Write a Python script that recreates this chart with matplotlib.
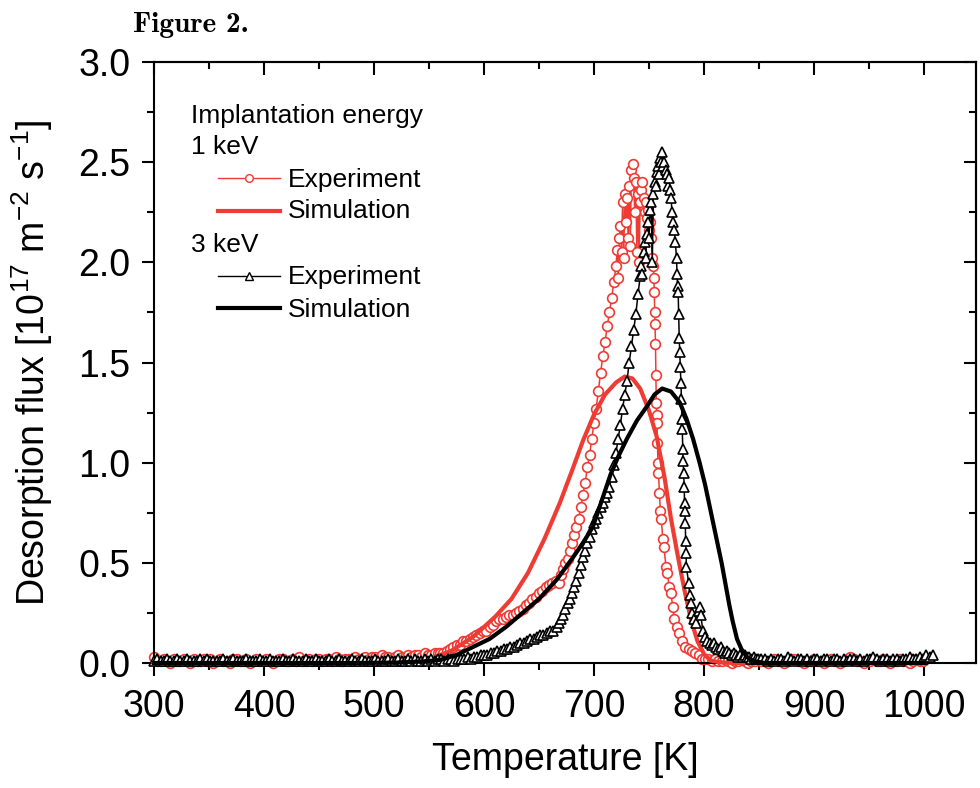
import numpy as np
import matplotlib.pyplot as plt
from matplotlib.ticker import MultipleLocator

plt.rcParams['font.family'] = ['Liberation Sans', 'DejaVu Sans']
plt.rcParams['mathtext.fontset'] = 'custom'
plt.rcParams['mathtext.rm'] = 'Liberation Sans'
plt.rcParams['mathtext.default'] = 'regular'

RED = '#EE3B33'

# ---- 1 keV experiment ----
# flat part before the peak, sampled every 3 K from 300 K
red_base = [0.03, 0.01, 0.01, 0.02, 0.01, 0.00, 0.02, 0.01, 0.01, 0.02,
            0.01, 0.00, 0.02, 0.01, 0.01, 0.02, 0.01, 0.02, 0.00, 0.01,
            0.02, 0.01, 0.01, 0.00, 0.02, 0.02, 0.01, 0.01, 0.02, 0.00,
            0.01, 0.02, 0.01, 0.01, 0.02, 0.01, 0.00, 0.01, 0.02, 0.02,
            0.01, 0.01, 0.02, 0.01, 0.03, 0.01, 0.01, 0.02, 0.01, 0.02,
            0.02, 0.01, 0.02, 0.02, 0.01, 0.03, 0.02, 0.01, 0.02, 0.02,
            0.02, 0.03, 0.02, 0.02, 0.03, 0.02, 0.03, 0.03, 0.02, 0.04,
            0.03, 0.03, 0.02, 0.03, 0.04, 0.03, 0.03, 0.04, 0.03, 0.04,
            0.04, 0.03, 0.05, 0.04, 0.04, 0.05, 0.05]
red_peak = [(560, 0.05), (563, 0.05), (566, 0.06), (569, 0.07), (572, 0.08),
            (575, 0.09), (578, 0.09), (581, 0.11), (584, 0.11), (587, 0.12),
            (590, 0.13), (593, 0.14), (596, 0.15), (599, 0.16), (602, 0.16),
            (605, 0.18), (608, 0.19), (611, 0.21), (614, 0.22), (617, 0.22),
            (620, 0.23), (623, 0.24), (626, 0.24), (629, 0.25), (632, 0.26),
            (635, 0.27), (638, 0.29), (641, 0.30), (644, 0.32), (647, 0.33),
            (650, 0.35), (653, 0.36), (656, 0.38), (659, 0.39), (662, 0.40),
            (665, 0.41), (668, 0.40), (670, 0.44), (672, 0.47), (674, 0.50),
            (676, 0.52), (678, 0.56), (680, 0.60), (682, 0.64), (684, 0.68),
            (686, 0.72), (688, 0.78), (690, 0.84), (692, 0.90), (694, 0.98),
            (696, 1.04), (698, 1.12), (700, 1.20), (702, 1.27), (704, 1.36),
            (706, 1.45), (708, 1.53), (710, 1.60), (712, 1.68), (714, 1.75),
            (716, 1.82), (718, 1.90), (720, 1.98), (721, 2.06), (722, 1.92),
            (723, 2.12), (724, 2.18), (725, 2.05), (726, 2.30), (727, 2.02),
            (728, 2.34), (729, 2.20), (730, 2.32), (731, 2.12), (732, 2.38),
            (733, 2.08), (734, 2.46), (735, 2.49), (736, 2.42), (737, 2.25),
            (738, 2.40), (739, 2.05), (740, 2.34), (741, 2.00), (742, 2.30),
            (743, 2.36), (744, 2.40), (745, 2.32), (746, 2.25), (747, 2.30),
            (748, 2.22), (749, 2.26), (750, 2.16), (751, 2.20), (752, 2.12),
            (753, 2.02), (754, 1.98), (754.4, 1.92), (754.8, 1.85), (755.2, 1.75),
            (755.5, 1.69), (755.9, 1.59), (756.3, 1.44), (756.6, 1.30), (757, 1.24),
            (757.3, 1.20), (757.7, 1.10), (758.1, 1.00), (758.6, 0.95), (759.5, 0.85),
            (760.3, 0.76), (761.2, 0.72), (762.5, 0.62), (763.5, 0.58), (765.5, 0.48),
            (766.5, 0.45), (768.5, 0.38), (770, 0.35), (771.5, 0.28), (773, 0.22),
            (775, 0.18), (777, 0.15), (780, 0.11), (783, 0.08), (786, 0.07),
            (789, 0.06), (792, 0.05), (795, 0.04), (798, 0.02)]
# flat part after the peak, every 3 K from 801 K
red_tail = [0.02, 0.02, 0.01, 0.02, 0.01, 0.01, 0.02, 0.01, 0.00, 0.01,
            0.01, 0.02, 0.01, 0.00, 0.01, 0.01, 0.02, 0.01, 0.01, 0.00,
            0.01, 0.02, 0.01, 0.01, 0.00, 0.01, 0.02, 0.02, 0.01, 0.01,
            0.00, 0.01, 0.01, 0.02, 0.01, 0.01, 0.00, 0.01, 0.02, 0.01,
            0.01, 0.00, 0.01, 0.02, 0.03, 0.02, 0.01, 0.01, 0.00, 0.01,
            0.01, 0.02, 0.01, 0.01, 0.02, 0.01, 0.00, 0.01, 0.01, 0.02,
            0.01, 0.01, 0.00, 0.01, 0.02, 0.01, 0.01]

# ---- 3 keV experiment ----
blk_base = [0.01, 0.02, 0.01, 0.01, 0.02, 0.01, 0.01, 0.02, 0.01, 0.01,
            0.02, 0.01, 0.01, 0.01, 0.02, 0.01, 0.02, 0.01, 0.01, 0.01,
            0.01, 0.02, 0.01, 0.01, 0.02, 0.01, 0.01, 0.01, 0.02, 0.01,
            0.01, 0.01, 0.02, 0.01, 0.01, 0.02, 0.01, 0.01, 0.01, 0.02,
            0.01, 0.01, 0.02, 0.01, 0.01, 0.01, 0.02, 0.01, 0.01, 0.02,
            0.01, 0.01, 0.01, 0.02, 0.01, 0.01, 0.02, 0.01, 0.01, 0.01,
            0.02, 0.01, 0.01, 0.02, 0.01, 0.01, 0.01, 0.02, 0.01, 0.01,
            0.01, 0.02, 0.01, 0.01, 0.02, 0.01, 0.01, 0.02, 0.01, 0.02,
            0.01, 0.01, 0.02, 0.01, 0.02, 0.01, 0.02, 0.02, 0.01, 0.02,
            0.02, 0.01, 0.02]
blk_peak = [(579, 0.02), (582, 0.02), (585, 0.03), (588, 0.02), (591, 0.03),
            (594, 0.03), (597, 0.04), (600, 0.04), (603, 0.04), (606, 0.05),
            (609, 0.05), (612, 0.06), (615, 0.06), (618, 0.07), (621, 0.07),
            (624, 0.08), (627, 0.08), (630, 0.09), (633, 0.10), (636, 0.10),
            (639, 0.11), (642, 0.12), (645, 0.12), (648, 0.13), (651, 0.14),
            (654, 0.14), (657, 0.15), (660, 0.16), (663, 0.16), (666, 0.18),
            (668, 0.20), (670, 0.22), (672, 0.24), (674, 0.27), (676, 0.30),
            (678, 0.32), (680, 0.35), (682, 0.38), (684, 0.41), (686, 0.45),
            (688, 0.49), (690, 0.53), (692, 0.56), (694, 0.60), (696, 0.63),
            (698, 0.67), (700, 0.70), (702, 0.72), (704, 0.75), (706, 0.78),
            (708, 0.80), (710, 0.83), (712, 0.85), (714, 0.88), (716, 0.93),
            (718, 0.99), (720, 1.05), (722, 1.12), (724, 1.19), (726, 1.27),
            (728, 1.34), (730, 1.41), (732, 1.50), (734, 1.58), (736, 1.66),
            (738, 1.74), (740, 1.84), (742, 1.93), (743, 1.98), (744, 1.94),
            (745, 2.05), (746, 2.10), (747, 2.02), (748, 2.14), (749, 2.20),
            (750, 2.12), (751, 2.26), (752, 2.30), (753, 2.00), (754, 2.34),
            (755, 2.40), (756, 2.38), (757, 2.45), (758, 2.48), (759, 2.44),
            (760, 2.52), (761, 2.50), (762, 2.55), (763, 2.48), (764, 2.50),
            (765, 2.46), (766, 2.44), (767, 2.38), (768, 2.42), (769, 2.36),
            (770, 2.32), (771, 2.25), (772, 2.20), (773, 2.16), (774, 2.10),
            (775, 2.02), (775.5, 1.94), (776, 1.88), (776.5, 1.85), (777, 1.74),
            (777.5, 1.62), (778, 1.55), (778.5, 1.48), (779, 1.40), (779.5, 1.32),
            (780, 1.22), (780.3, 1.17), (780.7, 1.07), (781, 1.01), (781.5, 0.95),
            (782, 0.88), (782.3, 0.80), (782.7, 0.76), (783, 0.70), (783.3, 0.61),
            (783.7, 0.55), (784, 0.48), (786, 0.40), (787, 0.34), (788, 0.30),
            (789, 0.25), (791, 0.22), (793, 0.20), (795, 0.26), (796, 0.28),
            (797, 0.24), (799, 0.16), (801, 0.13), (803, 0.11), (805, 0.10),
            (807, 0.09), (809, 0.10), (811, 0.08), (813, 0.07), (815, 0.08),
            (817, 0.06), (819, 0.05), (821, 0.06), (823, 0.05), (825, 0.04),
            (827, 0.05), (829, 0.04), (831, 0.03), (833, 0.04), (835, 0.03),
            (837, 0.04), (839, 0.03), (841, 0.03), (843, 0.02), (845, 0.03),
            (847, 0.02), (849, 0.02)]
# every 3 K from 852 K
blk_tail = [0.02, 0.02, 0.01, 0.02, 0.01, 0.02, 0.02, 0.01, 0.03, 0.02,
            0.01, 0.02, 0.02, 0.01, 0.02, 0.01, 0.02, 0.02, 0.01, 0.02,
            0.02, 0.01, 0.02, 0.02, 0.01, 0.02, 0.01, 0.02, 0.02, 0.01,
            0.02, 0.01, 0.02, 0.02, 0.03, 0.02, 0.01, 0.02, 0.02, 0.01,
            0.02, 0.02, 0.01, 0.02, 0.02, 0.03, 0.02, 0.02, 0.03, 0.02,
            0.04, 0.03, 0.04]

# ---- simulations ----
sim1_T = [300, 450, 500, 530, 550, 570, 590, 610, 625, 640, 655, 669, 680, 690,
          700, 710, 720, 728, 735, 742, 750, 757, 764, 770, 776, 782, 788, 794,
          800, 806, 815, 830, 1000]
sim1_F = [0, 0, 0.002, 0.008, 0.02, 0.06, 0.13, 0.23, 0.32, 0.45, 0.62, 0.80, 0.96,
          1.11, 1.24, 1.34, 1.40, 1.43, 1.42, 1.37, 1.26, 1.13, 0.93, 0.72, 0.54,
          0.37, 0.22, 0.11, 0.045, 0.012, 0.003, 0, 0]
sim3_T = [300, 480, 520, 545, 560, 575, 590, 605, 620, 635, 650, 666, 680, 690,
          699, 707, 715, 722, 730, 739, 748, 755, 762, 770, 778, 784, 790, 796,
          801, 806, 811, 816, 820, 823, 826, 830, 834, 839, 845, 855, 1000]
sim3_F = [0, 0, 0.002, 0.008, 0.015, 0.04, 0.08, 0.12, 0.18, 0.25, 0.32, 0.415,
          0.52, 0.60, 0.68, 0.81, 0.94, 1.03, 1.12, 1.21, 1.28, 1.34, 1.37, 1.355,
          1.30, 1.22, 1.12, 1.00, 0.89, 0.76, 0.63, 0.50, 0.38, 0.29, 0.21,
          0.12, 0.07, 0.03, 0.01, 0.0, 0]


def series(base, base_start, peak, tail, tail_start):
    pk = np.array(peak)
    T = np.concatenate([base_start + 3 * np.arange(len(base)), pk[:, 0],
                        tail_start + 3 * np.arange(len(tail))])
    F = np.concatenate([base, pk[:, 1], tail])
    return T, F


red_T, red_F = series(red_base, 300, red_peak, red_tail, 801)
blk_T, blk_F = series(blk_base, 300, blk_peak, blk_tail, 852)

fig = plt.figure(figsize=(9.8, 7.88), dpi=100)
ax = fig.add_axes([154 / 980, 1 - 663 / 788, 822 / 980, 601 / 788])

ax.plot(red_T, red_F, color=RED, lw=1.1, marker='o', ms=7, mfc='white',
        mec=RED, mew=1.2, clip_on=False, zorder=2)
ax.plot(sim1_T, sim1_F, color=RED, lw=3.0, clip_on=False, zorder=3)
ax.plot(blk_T, blk_F, color='black', lw=1.1, marker='^', ms=7.5, mfc='white',
        mec='black', mew=1.2, clip_on=False, zorder=4)
ax.plot(sim3_T, sim3_F, color='black', lw=3.0, clip_on=False, zorder=5)

ax.set_xlim(300, 300 + 822 / 1.1)
ax.set_ylim(0, 3)
ax.xaxis.set_major_locator(MultipleLocator(100))
ax.xaxis.set_minor_locator(MultipleLocator(50))
ax.yaxis.set_major_locator(MultipleLocator(0.5))
ax.yaxis.set_minor_locator(MultipleLocator(0.25))
ax.yaxis.set_major_formatter(plt.FormatStrFormatter('%.1f'))
ax.tick_params(which='both', direction='out', width=1.5, labelsize=27,
               top=False, right=False)
ax.tick_params(which='major', length=9)
ax.tick_params(which='minor', length=5)
ax.tick_params(axis='x', pad=10)
ax.tick_params(axis='y', pad=8)
for s in ax.spines.values():
    s.set_linewidth(1.5)

top = ax.secondary_xaxis('top')
top.xaxis.set_major_locator(MultipleLocator(100))
top.xaxis.set_minor_locator(MultipleLocator(50))
top.tick_params(which='both', direction='in', width=1.5, labeltop=False)
top.tick_params(which='major', length=9)
top.tick_params(which='minor', length=5)
right = ax.secondary_yaxis('right')
right.yaxis.set_major_locator(MultipleLocator(0.5))
right.yaxis.set_minor_locator(MultipleLocator(0.25))
right.tick_params(which='both', direction='in', width=1.5, labelright=False)
right.tick_params(which='major', length=9)
right.tick_params(which='minor', length=5)
top.spines['top'].set_linewidth(1.5)
right.spines['right'].set_linewidth(1.5)

ax.set_xlabel('Temperature [K]', fontsize=27, labelpad=12)
ax.set_ylabel('Desorption flux [10$^{17}$ m$^{-2}$ s$^{-1}$]', fontsize=27,
              labelpad=17)

# legend drawn by hand so the group headers sit left of the handles
tr = ax.transAxes
fs = 19
ax.text(0.045, 0.899, 'Implantation energy', transform=tr, fontsize=fs, va='baseline')
ax.text(0.045, 0.847, '1 keV', transform=tr, fontsize=fs, va='baseline')
ax.text(0.045, 0.684, '3 keV', transform=tr, fontsize=fs, va='baseline')
rows = [(0.8065, 0.7915, RED, 'o', 1.0, 'Experiment'),
        (0.752, 0.740, RED, None, 3.0, 'Simulation'),
        (0.644, 0.630, 'black', '^', 1.0, 'Experiment'),
        (0.590, 0.576, 'black', None, 3.0, 'Simulation')]
for yl, yt, c, m, lw, lab in rows:
    ax.plot([0.078, 0.1533], [yl, yl], transform=tr, color=c, lw=lw, clip_on=False)
    if m:
        ax.plot([0.1156], [yl], transform=tr, color=c, marker=m, ms=5.5,
                mfc='white', mec=c, mew=1.0, clip_on=False)
    ax.text(0.163, yt, lab, transform=tr, fontsize=fs, va='baseline')

fig.text(133 / 980, 1 - 32 / 788, 'Figure 2.', fontfamily='cmb10', fontsize=21,
         va='baseline')

fig.savefig('out.png', dpi=100)
